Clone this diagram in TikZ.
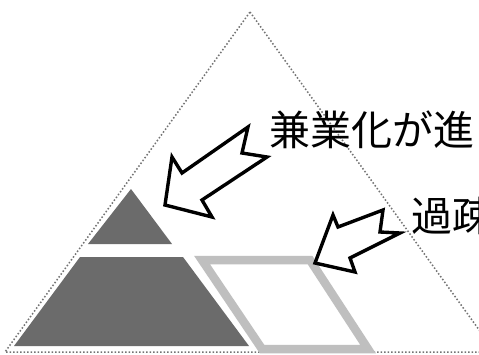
\documentclass[tikz,border=0pt]{standalone}
\usepackage{fontspec}
\newfontfamily\cjk{Noto Sans CJK JP}
\tikzset{
  outline/.style={draw=black!55, line width=1.5pt, dotted},
  darkfill/.style={fill=black!58, draw=none},
  lightband/.style={draw=black!25, line width=8.5pt, line join=miter},
  blockarrow/.style={draw=black, fill=white, line width=3.4pt, line join=miter, miter limit=6},
  label/.style={font=\cjk\fontsize{41}{41}\selectfont, inner sep=0pt, anchor=west, text=black}
}
\begin{document}
\begin{tikzpicture}[x=1pt,y=-1pt]
\useasboundingbox (0,0) rectangle (479,354);
\clip (0,0) rectangle (479,354);
\fill[white] (0,0) rectangle (479,354);
% outer triangle
\draw[outline] (250,12) -- (495,352) -- (5,352) -- cycle;
% dark top triangle
\path[darkfill] (131,189) -- (172,244) -- (88,244) -- cycle;
% dark trapezoid
\path[darkfill] (80,257) -- (183,257) -- (249,346) -- (14,346) -- cycle;
% light parallelogram
\draw[lightband] (202,260) -- (310,260) -- (368,349) -- (262,349) -- cycle;
% arrows
\draw[blockarrow] (165,205) -- (172,157) -- (182,173) -- (248,127) -- (242,153) -- (267,157) -- (202,200) -- (212,217) -- cycle;
\draw[blockarrow] (315,263) -- (333,215) -- (338,227) -- (383,210) -- (380,232) -- (400,233) -- (350,258) -- (355,272) -- cycle;
% labels
\node[label] (t1) at (269,130) {兼業化が進};
\node[label] (t2) at (411,216) {過疎};
\end{tikzpicture}
\end{document}
